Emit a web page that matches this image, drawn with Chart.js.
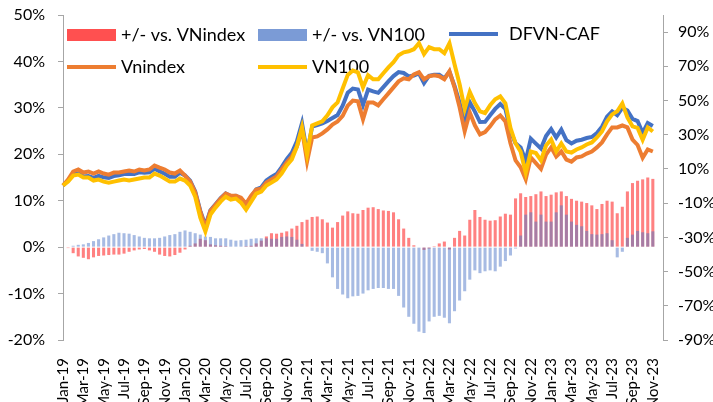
<!DOCTYPE html>
<html>
<head>
<meta charset="utf-8">
<script src="https://cdn.jsdelivr.net/npm/chart.js@4.4.0/dist/chart.umd.min.js"></script>
<style>
  html, body { margin: 0; padding: 0; background: #fff; }
  #wrap { width: 713px; height: 402px; }
</style>
</head>
<body>
<div id="wrap"><canvas id="myChart" width="713" height="402"></canvas></div>
<script>
// half-month points, Jan-19 .. Nov-23 (labels shown every 2 months)
const tickLabels = ["Jan-19","Mar-19","May-19","Jul-19","Sep-19","Nov-19",
  "Jan-20","Mar-20","May-20","Jul-20","Sep-20","Nov-20",
  "Jan-21","Mar-21","May-21","Jul-21","Sep-21","Nov-21",
  "Jan-22","Mar-22","May-22","Jul-22","Sep-22","Nov-22",
  "Jan-23","Mar-23","May-23","Jul-23","Sep-23","Nov-23"];

// +/- vs. VNindex (left axis, %)
const diffVnindex = [0,-0.2,-1.3,-2.0,-2.3,-2.6,-2.2,-1.9,-1.8,-1.7,-1.6,-1.6,-1.4,-1.0,-0.7,-0.5,-0.4,-0.7,-1.0,-1.6,
  -1.9,-2.0,-1.7,-1.2,-0.5,0.3,0.8,1.8,1.5,0.6,0.4,0.3,0.2,0.1,0,0.1,0.2,0.3,0.8,1.4,
  2.3,3.0,2.9,3.1,3.4,4.0,4.6,5.4,5.9,6.5,6.6,6.0,5.3,4.2,5.4,6.8,7.7,7.3,7.2,8.0,
  8.5,8.6,8.2,7.9,7.8,7.5,6.0,4.0,2.0,0.4,0,-0.6,-0.3,0.2,0.8,1.2,-0.5,2.0,3.5,2.5,
  5.9,8.0,6.5,5.9,5.7,5.8,6.6,7.2,7.0,10.5,11.6,10.8,11.0,11.4,12.0,11.0,11.3,11.8,12.0,11.0,
  10.4,10.0,9.8,9.5,9.0,8.2,9.3,10.0,9.8,7.3,8.7,12.0,13.8,14.3,14.6,15.0,14.7];

// +/- vs. VN100 (left axis, %)
const diffVn100 = [0,0,0.3,0.5,0.6,0.9,1.3,1.7,2.1,2.5,2.8,3.1,3.0,2.9,2.6,2.3,2.0,1.9,1.9,2.0,
  2.3,2.6,2.8,3.3,3.6,3.3,3.0,2.7,2.3,2.2,1.9,1.9,1.9,1.6,1.4,1.5,1.6,1.8,1.9,1.9,
  1.9,1.8,1.8,2.2,2.3,2.2,1.6,0.7,0.1,-0.8,-1.0,-1.3,-3.5,-6.5,-9.0,-10.2,-11.0,-10.6,-10.5,-10.0,
  -9.3,-9.0,-8.8,-8.8,-9.0,-9.0,-10.5,-13.0,-15.0,-16.5,-18.2,-18.5,-16.0,-15.0,-14.8,-15.2,-16.4,-13.8,-11.5,-9.5,
  -7.0,-5.0,-5.6,-5.2,-5.0,-5.2,-4.2,-3.0,-1.8,-0.3,2.5,7.0,7.5,5.5,7.0,5.5,5.5,7.5,9.0,7.0,
  5.5,4.8,4.5,3.5,2.8,2.7,2.8,3.0,1.5,-2.2,-1.0,2.0,2.7,3.5,3.2,3.0,3.4];

// DFVN-CAF (right axis, %)
const dfvn = [0.3,3.2,6.8,7.4,5.6,5.9,4.8,6.0,5.1,4.8,5.8,6.3,7.0,7.0,7.1,8.0,7.8,8.0,10.1,8.6,
  7.2,5.5,5.5,7.8,6.2,3.2,-3.1,-14.5,-23,-14.1,-10.6,-7.1,-4.3,-5.9,-5.7,-7.4,-11.1,-6.3,-1.9,-0.7,
  3.2,5.3,7.0,11.1,15.7,19.5,26.2,36.8,19.3,34.7,35.6,36.6,38.1,39.8,41.5,47,54.5,57,56.5,47.3,
  56.4,55.4,54.5,57.8,61.2,64.3,66.6,66.1,64.1,64.6,65.9,60.2,64.5,65,65.1,63,66.8,58.5,48.7,37,
  49,43.5,37.4,37.5,41.4,45.1,48,45.1,32.1,25,22.5,14.8,27.7,24.8,22,29.3,33.3,28.4,33,26.9,
  24.9,26.5,27.1,28.1,28.7,31,34.7,40.5,43.7,41.5,45.7,44.2,39.3,38,31,36.8,35.1];

// Vnindex (right axis, %)
const vnindex = [0.3,3.8,8.5,9.7,7.9,8.5,7.3,8.5,7.3,6.7,7.9,7.9,8.5,9.1,8.5,9.7,9.1,9.7,12.0,10.8,
  9.7,7.9,7.3,9.1,6.1,2.6,-3.8,-15.0,-24.5,-14.4,-10.9,-7.3,-4.4,-5.6,-5.6,-6.8,-10.3,-5.6,-2.1,-1.5,
  2.0,3.8,5.6,9.7,13.8,17.3,23.1,33.1,14.3,28.4,29.0,30.8,33.1,36.0,37.8,41,47,50,49.5,39.0,
  48.9,48.9,47.2,50.7,54.2,57.7,61.2,63.0,62.4,65.3,66.5,62.4,64.2,64.8,64.2,62.4,67.1,57.7,46.0,32,
  43,35.5,30.2,31.6,34.9,39.0,41.3,37.8,25,15,11,4,16.7,13.4,10,18.4,22.6,17.3,20.2,15.5,
  14.3,16.7,17.3,19.0,20.2,22.6,25.5,30.2,34.3,34.3,35.4,34.3,27.2,24,16.5,21.4,20.2];

// VN100 (right axis, %)
const vn100 = [0.3,2.6,6.1,6.7,5.0,5.0,3.2,3.8,2.6,2.0,2.6,3.2,3.8,3.2,3.8,4.4,5.0,5.0,7.3,6.1,
  4.4,2.6,2.6,4.4,3.2,0.3,-6.2,-18.5,-26.5,-16.7,-12.6,-9.1,-6.2,-7.9,-7.3,-9.7,-13.8,-9.1,-4.4,-3.2,
  0.3,2.0,3.8,7.3,12.0,15.5,23.1,34.3,18.4,35.4,36.6,37.8,41.3,46.0,48.9,57,65,67.5,66.5,57.7,
  64.8,62.4,62.4,65.9,69.4,72.4,76.5,78.2,78.8,80.0,83.5,77.1,81.2,80.0,80.0,77.7,83.5,71.2,59.5,45,
  55,48.5,43.7,42.7,47.2,50.7,52.4,48.3,34,25,20,7.8,20.2,19.3,15,23.7,27.2,20.2,24.9,20.2,
  19.6,21.4,22.6,24.3,25.5,28.4,31.9,37.8,41.9,43.7,48.3,40.1,34.9,34,27,34.3,31.9];

const rightTicks = [-90, -70, -50, -30, -10, 10, 30, 50, 70, 90];

const nPoints = 119;
const labels = [];
for (let i = 0; i < nPoints; i++) labels.push(i % 4 === 0 ? (tickLabels[i / 4] || "") : "");

const RED = "rgba(255, 80, 80, 0.72)";
const BLUE = "rgba(80, 120, 200, 0.5)";
const FONT = "Lato, 'Liberation Sans', sans-serif";

const legendItems = [
  { text: "+/- vs. VNindex", type: "box", color: "#FF5050", x: 67, y: 35 },
  { text: "+/- vs. VN100", type: "box", color: "#7B9BD6", x: 258, y: 35 },
  { text: "DFVN-CAF", type: "line", color: "#4472C4", x: 449, y: 34, tx: 509 },
  { text: "Vnindex", type: "line", color: "#ED7D31", x: 67, y: 67 },
  { text: "VN100", type: "line", color: "#FFC000", x: 258, y: 67 }
];

const legendPlugin = {
  id: "inLegend",
  beforeDatasetsDraw(chart) {
    const ctx = chart.ctx;
    ctx.save();
    ctx.font = "18px " + FONT;
    ctx.textBaseline = "middle";
    legendItems.forEach(it => {
      if (it.type === "box") {
        ctx.fillStyle = it.color;
        ctx.fillRect(it.x, it.y - 6, 49, 12);
      } else {
        ctx.strokeStyle = it.color;
        ctx.lineWidth = 4;
        ctx.beginPath();
        ctx.moveTo(it.x, it.y);
        ctx.lineTo(it.x + 49, it.y);
        ctx.stroke();
      }
      ctx.fillStyle = "#000";
      ctx.fillText(it.text, it.tx || it.x + 54, it.y);
    });
    ctx.restore();
  }
};

const axisGrey = "#A6A6A6";

// the vertical axes should not push the plot area down
function noVPad(scale) {
  scale.paddingTop = 0;
  scale.paddingBottom = 0;
}

new Chart(document.getElementById("myChart"), {
  type: "bar",
  data: {
    labels,
    datasets: [
      { type: "bar", label: "+/- vs. VNindex", data: diffVnindex, yAxisID: "y", backgroundColor: RED,
        grouped: false, barPercentage: 0.6, categoryPercentage: 1, order: 4 },
      { type: "bar", label: "+/- vs. VN100", data: diffVn100, yAxisID: "y", backgroundColor: BLUE,
        grouped: false, barPercentage: 0.6, categoryPercentage: 1, order: 3 },
      { type: "line", label: "DFVN-CAF", data: dfvn, yAxisID: "y1", borderColor: "#4472C4",
        borderWidth: 4, pointRadius: 0, tension: 0, order: 2 },
      { type: "line", label: "Vnindex", data: vnindex, yAxisID: "y1", borderColor: "#ED7D31",
        borderWidth: 4, pointRadius: 0, tension: 0, order: 1 },
      { type: "line", label: "VN100", data: vn100, yAxisID: "y1", borderColor: "#FFC000",
        borderWidth: 4, pointRadius: 0, tension: 0, order: 0 }
    ]
  },
  options: {
    responsive: false,
    animation: false,
    layout: { padding: { top: 15, left: 0, right: 0, bottom: 0 } },
    plugins: { legend: { display: false }, tooltip: { enabled: false } },
    scales: {
      x: {
        type: "category",
        offset: false,
        grid: { display: false },
        border: { display: false },
        ticks: { autoSkip: false, maxRotation: 90, minRotation: 90, padding: 10,
          color: "#000", font: { family: FONT, size: 15 } },
        afterFit(scale) { scale.height = 62; scale.paddingLeft = 0; scale.paddingRight = 0; }
      },
      y: {
        position: "left",
        min: -20, max: 50,
        ticks: { stepSize: 10, padding: 13, color: "#000", font: { family: FONT, size: 16 },
          callback: v => v + "%" },
        grid: { drawOnChartArea: false, drawTicks: true, tickLength: 5, color: axisGrey },
        border: { display: true, color: axisGrey },
        afterFit(scale) { scale.width = 63; noVPad(scale); }
      },
      y1: {
        position: "right",
        min: -90, max: 100,
        afterBuildTicks(scale) { scale.ticks = rightTicks.map(v => ({ value: v })); },
        ticks: { padding: 10, color: "#000", font: { family: FONT, size: 16 },
          callback: v => v + "%" },
        grid: { drawOnChartArea: false, drawTicks: true, tickLength: 5, color: axisGrey },
        border: { display: true, color: axisGrey },
        afterFit(scale) { scale.width = 50; noVPad(scale); }
      }
    }
  },
  plugins: [legendPlugin]
});
</script>
</body>
</html>
